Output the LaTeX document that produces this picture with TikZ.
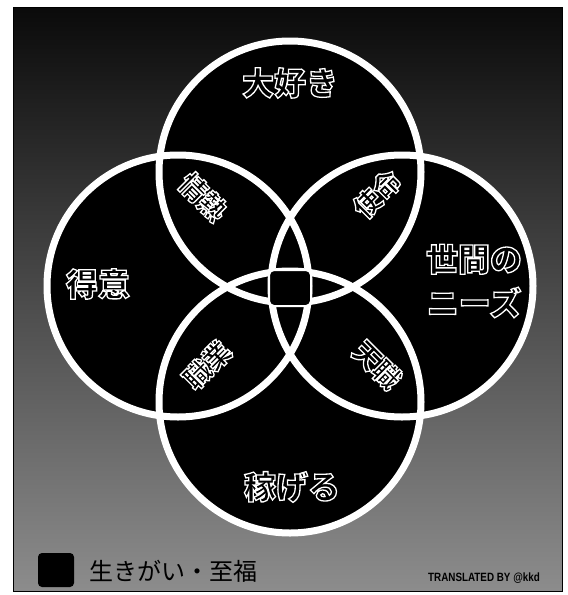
\documentclass[tikz,border=0pt]{standalone}
\usepackage{fontspec}
\newfontfamily\jp{Noto Sans CJK JP}
\newfontfamily\latinsans{Liberation Sans}
% white outline, black inside (as the reference's glyphs look)
\newcommand\hollowW[1]{\special{pdf:literal direct 2 Tr 1.3 w 0 g}#1\special{pdf:literal direct 0 Tr 1 g}}
\begin{document}
\begin{tikzpicture}[x=1pt,y=-1pt,
  ring/.style={draw=white, line width=7pt},
  disc/.style={fill=black},
  biglabel/.style={text=white, inner sep=0pt, font=\jp\bfseries\fontsize{32}{44}\selectfont},
  lenslabel/.style={text=white, inner sep=0pt, font=\jp\bfseries\fontsize{27}{30}\selectfont},
  corebox/.style={fill=black, draw=white, line width=2pt, rounded corners=5pt,
                  minimum width=42pt, minimum height=36pt, inner sep=0pt},
]
\useasboundingbox (0,0) rectangle (568,595);
\fill[white] (0,0) rectangle (568,595);
% background panel
\shade[top color=black!96, middle color=black!80, bottom color=black!45]
  (13,7) rectangle (562,591);
\draw[black, line width=1pt] (13,7) rectangle (562,591);

% circle centres
\coordinate (cT) at (290,172);
\coordinate (cL) at (178,286);
\coordinate (cR) at (402,286);
\coordinate (cB) at (290,402);

% discs, then rings on top
\foreach \c in {cT,cL,cR,cB} \fill[disc] (\c) circle[radius=131pt];
\foreach \c in {cT,cL,cR,cB} \draw[ring] (\c) circle[radius=131pt];

% centre square
\node[corebox] (core) at (290,288) {};

% main labels
\node[biglabel] (love) at (290,83) {\hollowW{大好き}};
\node[biglabel] (good) at (98,284) {\hollowW{得意}};
\node[biglabel, align=center] (needs) at (474,281) {\hollowW{世間の}\\\hollowW{ニーズ}};
\node[biglabel] (paid) at (292,487) {\hollowW{稼げる}};

% overlap labels
\node[lenslabel, rotate=-45] (passion)    at (203,197) {\hollowW{情熱}};
\node[lenslabel, rotate=45]  (mission)    at (377,194) {\hollowW{使命}};
\node[lenslabel, rotate=45]  (profession) at (207,365) {\hollowW{職業}};
\node[lenslabel, rotate=-45] (vocation)   at (377,365) {\hollowW{天職}};

% legend
\node[fill=black, rounded corners=4pt, minimum width=36pt, minimum height=34pt, inner sep=0pt]
  (legendbox) at (56,570) {};
\node[anchor=west, inner sep=0pt, text=black, font=\jp\fontsize{24}{28}\selectfont]
  (legendtext) at (89,571) {生きがい・至福};
\node[inner sep=0pt, xscale=0.82, font=\latinsans\bfseries\fontsize{12}{12}\selectfont]
  (credit) at (484,578) {TRANSLATED BY @kkd};
\end{tikzpicture}
\end{document}
